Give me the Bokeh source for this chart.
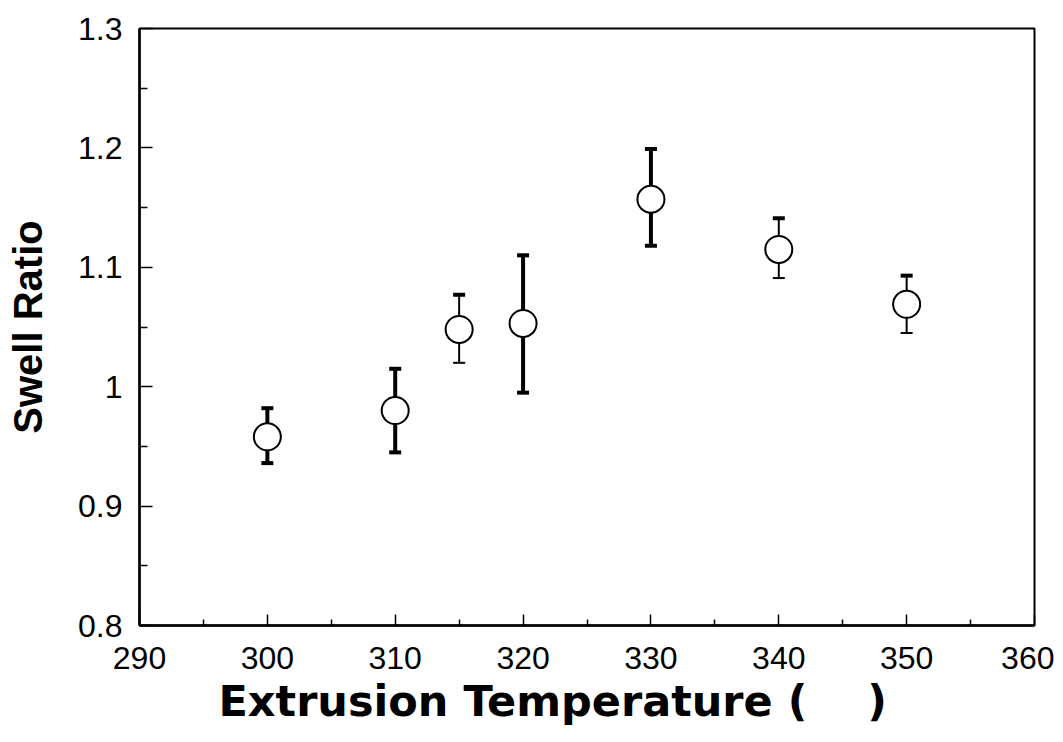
from bokeh.plotting import figure
from bokeh.models import ColumnDataSource, FixedTicker, CustomJSTickFormatter, Range1d, Title
from bokeh.embed import file_html
from bokeh.resources import INLINE

# ---- data ----
temperature = [300, 310, 315, 320, 330, 340, 350]
swell_ratio = [0.958, 0.980, 1.048, 1.053, 1.157, 1.115, 1.069]
err_upper = [0.982, 1.015, 1.077, 1.110, 1.199, 1.141, 1.093]
err_lower = [0.936, 0.945, 1.020, 0.995, 1.118, 1.091, 1.045]
x_ticks = [290, 300, 310, 320, 330, 340, 350, 360]
x_minor = [295, 305, 315, 325, 335, 345, 355]
y_ticks = [0.8, 0.9, 1.0, 1.1, 1.2, 1.3]
y_minor = [0.85, 0.95, 1.05, 1.15, 1.25]
x_title = "Extrusion Temperature (\u00a0\u00a0\u00a0\u00a0)"
y_title = "Swell Ratio"

# style: which error bars are drawn heavy
heavy = [True, True, False, True, True, False, False]
stem_w = [4 if h else 2 for h in heavy]
low_cap_w = [4 if h else 2 for h in heavy]

src = ColumnDataSource(dict(x=temperature, y=swell_ratio, up=err_upper, lo=err_lower,
                            sw=stem_w, lw=low_cap_w))

p = figure(frame_width=895, frame_height=597, output_backend="svg", toolbar_location=None,
           x_range=Range1d(290, 360), y_range=Range1d(0.8, 1.3),
           min_border_left=139, min_border_top=28, min_border_right=20, min_border_bottom=10,
           background_fill_color="white", border_fill_color="white")

p.xgrid.visible = False
p.ygrid.visible = False
p.outline_line_color = "black"
p.outline_line_width = 2
p.outline_line_alpha = 1

# stems and caps
p.segment(x0="x", y0="lo", x1="x", y1="up", line_width="sw", line_color="black", source=src)
p.scatter(x="x", y="up", marker="dash", size=12, line_width=4, line_color="black", source=src)
p.scatter(x="x", y="lo", marker="dash", size=12, line_width="lw", line_color="black", source=src)
# markers
p.scatter(x="x", y="y", marker="circle", size=27, fill_color="white", line_color="black",
          line_width=2, source=src)

# axes
xa = p.xaxis[0]
ya = p.yaxis[0]
xa.ticker = FixedTicker(ticks=x_ticks, minor_ticks=x_minor)
ya.ticker = FixedTicker(ticks=y_ticks, minor_ticks=y_minor)
ya.formatter = CustomJSTickFormatter(code="return String(Math.round(tick*10)/10);")
xa.formatter = CustomJSTickFormatter(code="return String(Math.round(tick));")

for ax in (xa, ya):
    ax.axis_line_color = "black"
    ax.axis_line_width = 2.5
    ax.major_tick_line_color = "black"
    ax.minor_tick_line_color = "black"
    ax.major_tick_line_width = 1.5
    ax.minor_tick_line_width = 1.5
    ax.major_tick_out = 0
    ax.minor_tick_out = 0
    ax.major_label_text_font = "Liberation Sans"
    ax.major_label_text_font_size = "32px"
    ax.major_label_text_color = "black"
    ax.axis_label_text_color = "black"
    ax.axis_label_text_font_style = "bold"

xa.major_tick_in = 11
xa.minor_tick_in = 6
ya.major_tick_in = 13
ya.minor_tick_in = 8
xa.major_label_standoff = 21
ya.major_label_standoff = 17

ya.axis_label = y_title
ya.axis_label_text_font = "Liberation Sans"
ya.axis_label_text_font_size = "40px"
ya.axis_label_standoff = 25

# x-axis title: a title panel below the axis, offset to the left as in the reference
xt = Title(text=x_title, align="left", offset=79, standoff=4,
           text_font="DejaVu Sans", text_font_style="bold", text_font_size="43px",
           text_color="black")
p.add_layout(xt, "below")

open("out.html", "w").write(file_html(p, INLINE))
